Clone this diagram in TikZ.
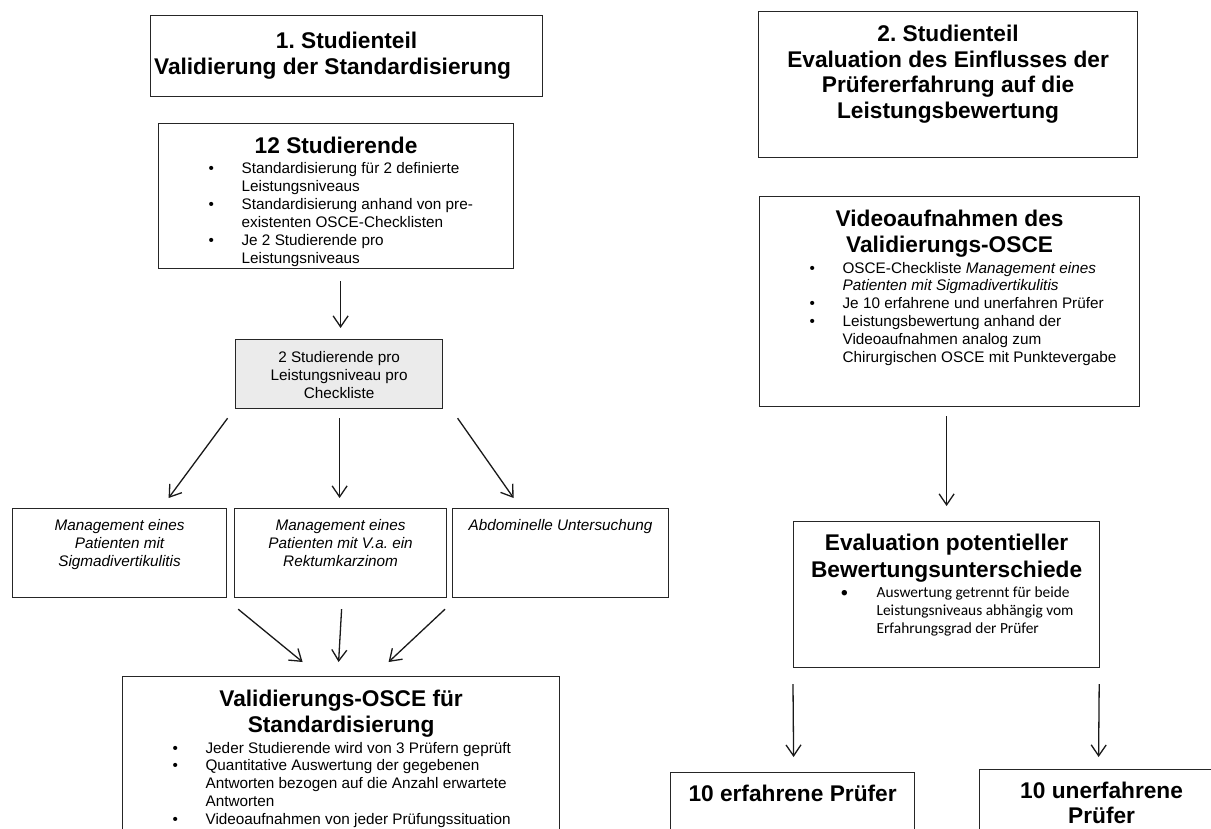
\documentclass[tikz,border=0pt]{standalone}
\usepackage{fontspec}
\setmainfont{Liberation Sans}
\newfontfamily\calfont{Carlito}
\usetikzlibrary{arrows.meta}
\frenchspacing

\newlength{\bulx}
\newlength{\txtx}
\setlength{\bulx}{50pt}
\setlength{\txtx}{83pt}
\newcommand{\ttl}{\fontsize{22.7}{25.5}\selectfont\bfseries}
\newcommand{\bdy}{\fontsize{15.3}{17.9}\selectfont\mdseries}
\newcommand{\itm}[1]{\par\hangindent=\txtx\hangafter=1\noindent\hspace*{\bulx}\makebox[\dimexpr\txtx-\bulx\relax][l]{\textbullet}#1\par}

\tikzset{
  box/.style={draw=black!85, line width=1.2pt, inner sep=0pt, anchor=north west},
  arr/.style={-{Straight Barb[length=11pt,width=15pt]}, line width=1.3pt, black!90},
}

\begin{document}
\begin{tikzpicture}[x=1pt,y=-1pt]
  \useasboundingbox (0,0) rectangle (1211,828);
  \clip (0,0) rectangle (1211,828);

  %%%%% 1. STUDIENTEIL %%%%%
  \node[box] (part1) at (150,15) {\parbox[c][81pt][t]{392pt}{\centering\ttl\rule{0pt}{33pt}1. Studienteil\hspace*{16pt}\\Validierung der Standardisierung\hspace*{28pt}}};

  \node[box] (stud) at (158,123) {\parbox[c][145pt][t]{355pt}{\centering\ttl\rule{0pt}{30pt}12 Studierende\par
    \bdy\raggedright\vspace{2pt}
    \itm{Standardisierung für 2 definierte\newline Leistungsniveaus}
    \itm{Standardisierung anhand von pre-\newline existenten OSCE-Checklisten}
    \itm{Je 2 Studierende pro\newline Leistungsniveaus}}};

  \node[box, fill=black!8] (group) at (235,339) {\parbox[c][69pt][t]{207pt}{\centering\bdy\rule{0pt}{23pt}2 Studierende pro\\Leistungsniveau pro\\Checkliste}};

  \node[box] (sigma) at (12,508) {\parbox[c][89pt][t]{214pt}{\centering\bdy\itshape\rule{0pt}{22pt}Management eines\\Patienten mit\\Sigmadivertikulitis}};
  \node[box] (rektum) at (234,508) {\parbox[c][89pt][t]{212pt}{\centering\bdy\itshape\rule{0pt}{22pt}Management eines\\Patienten mit V.a. ein\\Rektumkarzinom}};
  \node[box] (abdo) at (452,508) {\parbox[c][89pt][t]{216pt}{\centering\bdy\itshape\rule{0pt}{22pt}Abdominelle Untersuchung}};

  \node[box] (valosce) at (122,676) {\parbox[c][180pt][t]{437pt}{\centering\ttl\rule{0pt}{30pt}Validierungs-OSCE für\\Standardisierung\par
    \bdy\raggedright\vspace{3pt}
    \itm{Jeder Studierende wird von 3 Prüfern geprüft}
    \itm{Quantitative Auswertung der gegebenen\newline Antworten bezogen auf die Anzahl erwartete\newline Antworten}
    \itm{Videoaufnahmen von jeder Prüfungssituation}}};

  \draw[arr] ([xshift=4.5pt,yshift=-12pt]stud.south) -- ([xshift=1.5pt,yshift=11pt]group.north);
  \draw[arr] ([xshift=-111.5pt,yshift=-9pt]group.south) -- ([xshift=49pt,yshift=10pt]sigma.north);
  \draw[arr] ([xshift=0.5pt,yshift=-9pt]group.south) -- ([xshift=-1pt,yshift=10pt]rektum.north);
  \draw[arr] ([xshift=118.5pt,yshift=-9pt]group.south) -- ([xshift=-47pt,yshift=10pt]abdo.north);
  \draw[arr] ([xshift=11pt,yshift=-11pt]sigma.south east) -- ([xshift=-38.5pt,yshift=14pt]valosce.north);
  \draw[arr] ([xshift=1pt,yshift=-11pt]rektum.south) -- ([xshift=-2.5pt,yshift=14pt]valosce.north);
  \draw[arr] ([xshift=-7pt,yshift=-11pt]abdo.south west) -- ([xshift=47.5pt,yshift=14pt]valosce.north);

  %%%%% 2. STUDIENTEIL %%%%%
  \node[box] (part2) at (758,11) {\parbox[c][146pt][t]{379pt}{\centering\ttl\rule{0pt}{30pt}2. Studienteil\\Evaluation des Einflusses der\\Prüfererfahrung auf die\\Leistungsbewertung}};

  \node[box] (video) at (759,196) {\parbox[c][210pt][t]{380pt}{\centering\ttl\rule{0pt}{30pt}Videoaufnahmen des\\Validierungs-OSCE\par
    \bdy\raggedright\vspace{3pt}
    \itm{OSCE-Checkliste \textit{Management eines}\newline \textit{Patienten mit Sigmadivertikulitis}}
    \itm{Je 10 erfahrene und unerfahren Prüfer}
    \itm{Leistungsbewertung anhand der\newline Videoaufnahmen analog zum\newline Chirurgischen OSCE mit Punktevergabe}}};

  \node[box] (eval) at (793,521) {\parbox[c][146pt][t]{306pt}{\centering\ttl\rule{0pt}{29pt}Evaluation potentieller\\[1.5pt]Bewertungsunterschiede\par
    \fontsize{15.4}{17.9}\selectfont\mdseries\calfont\raggedright\vspace{2pt}\setlength{\bulx}{47pt}
    \itm{Auswertung getrennt für beide\newline Leistungsniveaus abhängig vom\newline Erfahrungsgrad der Prüfer}}};

  \node[box] (erf) at (670,772) {\parbox[c][80pt][t]{244pt}{\centering\ttl\rule{0pt}{29pt}10 erfahrene Prüfer}};
  \node[box] (unerf) at (979,769) {\parbox[c][80pt][t]{244pt}{\centering\ttl\rule{0pt}{29pt}10 unerfahrene\\[-1pt]Prüfer}};

  \draw[arr] ([xshift=-3pt,yshift=-9pt]video.south) -- ([yshift=15pt]eval.north);
  \draw[arr] ([yshift=-16pt]eval.south west) -- ([xshift=1pt,yshift=15pt]erf.north);
  \draw[arr] ([xshift=-1pt,yshift=-16pt]eval.south east) -- ([xshift=-3pt,yshift=12pt]unerf.north);
\end{tikzpicture}
\end{document}
